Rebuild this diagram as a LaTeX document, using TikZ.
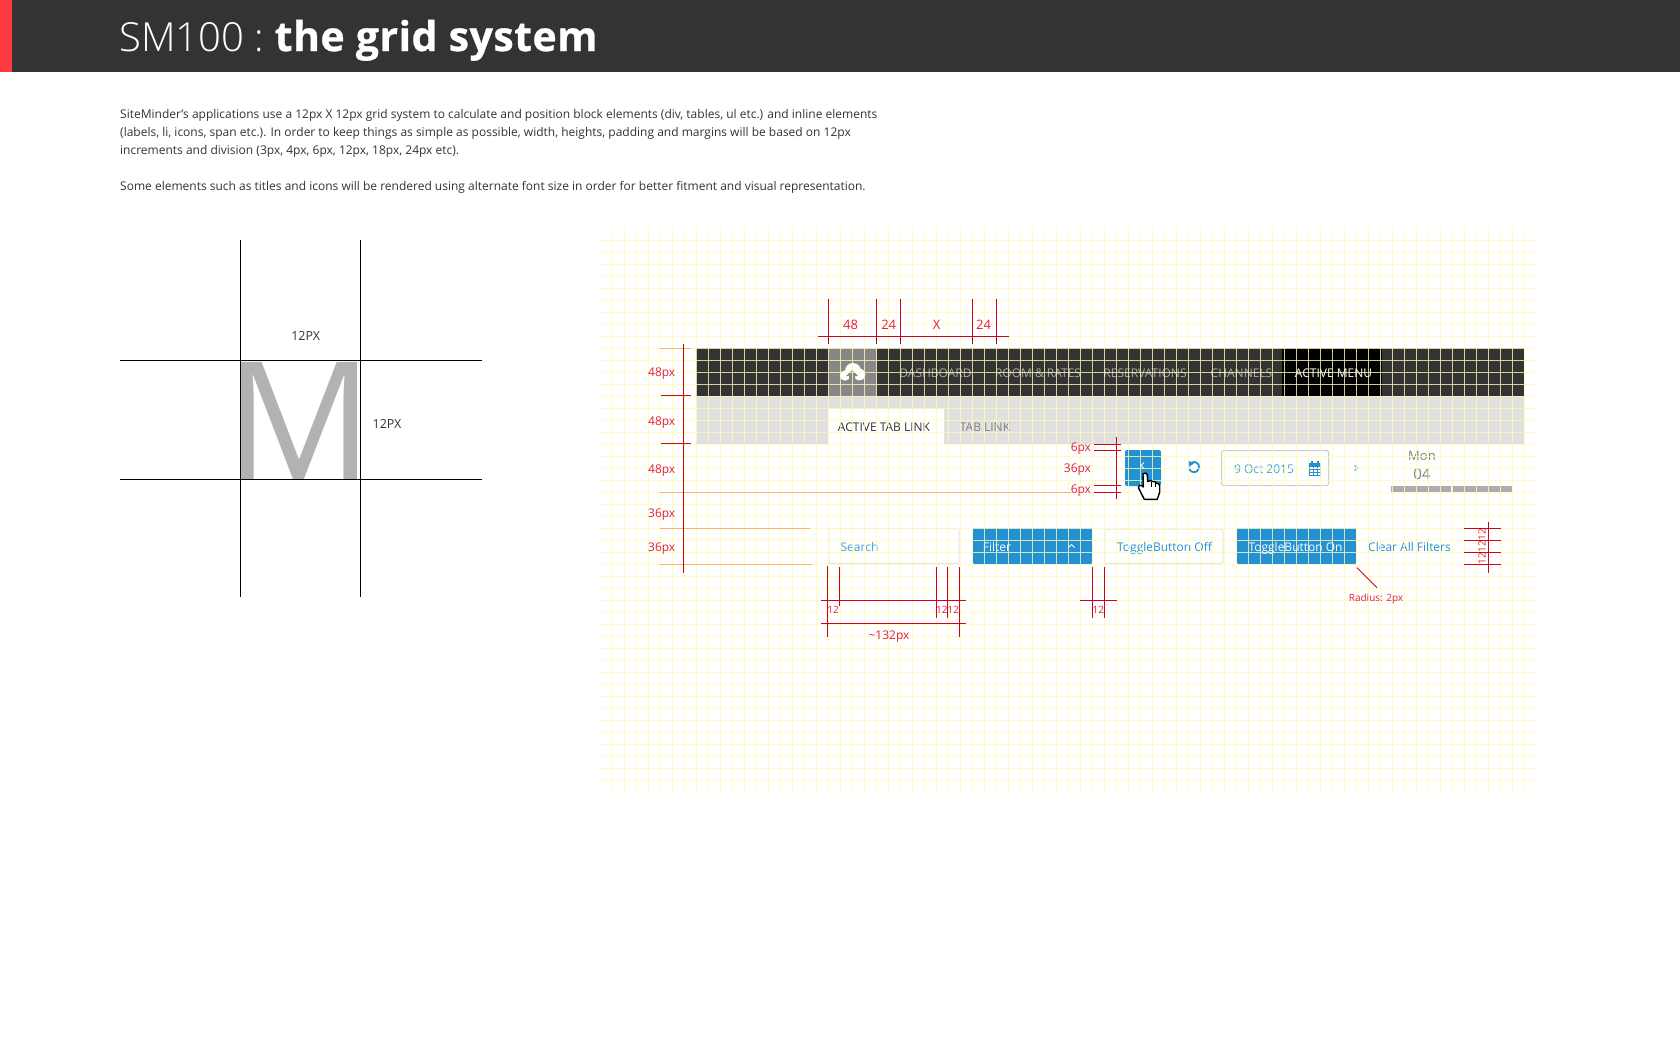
\documentclass[tikz,border=0pt]{standalone}
\usepackage{fontspec}
\setmainfont{Open Sans}
\newfontfamily\oslight{Open Sans Light}
\newfontfamily\oshead[BoldFeatures={FakeBold=0.7,LetterSpace=1.2}]{Open Sans}
\definecolor{hdr}{HTML}{333333}
\definecolor{bar}{HTML}{FF3B3F}
\definecolor{gridc}{HTML}{FFFAB4}
\definecolor{redl}{HTML}{D0021B}
\definecolor{redt}{HTML}{E02040}
\definecolor{orangel}{HTML}{FFB070}
\definecolor{blueb}{HTML}{2492D2}
\definecolor{bluet}{HTML}{3EA3DD}
\definecolor{navtxt}{HTML}{AAAAAA}
\tikzset{
  fs/.style={font=\fontsize{#1}{#1}\selectfont,text height={#1pt*0.714},text depth=0pt,inner sep=0pt,outer sep=0pt},
  redlabel/.style={fs=#1,text=redt},
  gridline/.style={draw=gridc,line width=1pt,draw opacity=.8},
  redline/.style={draw=redl,line width=1pt},
  orangeline/.style={draw=orangel,line width=1pt},
  blackline/.style={draw=black,line width=1pt},
  boxline/.style={draw=#1,line width=1pt,rounded corners=2pt},
}
\begin{document}
\begin{tikzpicture}[x=1pt,y=-1pt]
\useasboundingbox (0,0) rectangle (1680,1050);
\fill[white] (0,0) rectangle (1680,1050);
% header
\fill[hdr] (0,0) rectangle (1680,72);
\fill[bar] (0,0) rectangle (12,72);
\node[anchor=base west,inner sep=0pt,text=white,font=\fontsize{40}{40}\selectfont] (title) at (119,51) {{\oslight SM100 : }\hspace{-3pt}{\fontsize{41}{41}\selectfont\oshead\bfseries the grid system}};
% body text
\tikzset{bodytext/.style={anchor=base west,inner sep=0pt,text=hdr,font=\fontsize{12}{12}\selectfont}}
\node[bodytext] (p1) at (120,118) {SiteMinder’s applications use a 12px X 12px grid system to calculate and position block elements (div, tables, ul etc.) and inline elements};
\node[bodytext] (p2) at (120,136) {(labels, li, icons, span etc.). In order to keep things as simple as possible, width, heights, padding and margins will be based on 12px};
\node[bodytext] (p3) at (120,154) {increments and division (3px, 4px, 6px, 12px, 18px, 24px etc).};
\node[bodytext] (p4) at (120,190) {Some elements such as titles and icons will be rendered using alternate font size in order for better fitment and visual representation.};
% M diagram
\begin{scope}
\clip (240,361) rectangle (360,479.5);
\node[anchor=base,inner sep=0pt,text=black!30,font=\fontsize{164}{164}\selectfont] (bigm) at (300,479.5) {M};
\end{scope}
\draw[blackline] (240.5,240) -- (240.5,597);
\draw[blackline] (360.5,240) -- (360.5,597);
\draw[blackline] (120,360.5) -- (482,360.5);
\draw[blackline] (120,479.5) -- (482,479.5);
\node[fs=12.5,text=hdr] (d12a) at (305.7,336.3) {12PX};
\node[fs=12.5,text=hdr] (d12b) at (387,424.3) {12PX};
% nav
\fill[hdr] (696,348) rectangle (1524,396);
\fill[black!47] (828,348) rectangle (876.5,396);
\fill[black] (1282,348) rectangle (1382,396);
\fill[white!88!black] (696,396) rectangle (1524,444);
\fill[white] (828,409) rectangle (944,444);
% cloud icon
\fill[white] (853,371) circle[radius=8] (845,375.5) circle[radius=5.2] (859.5,374.5) circle[radius=5.8];
\fill[black!47] (852,370) -- (846,376) -- (849,376) -- (849,382) -- (855,382) -- (855,376) -- (858,376) -- cycle;
\tikzset{navt/.style={fs=12,text=navtxt}}
\node[navt] (m1) at (935.5,372.8) {DASHBOARD};
\node[navt] (m2) at (1038,372.8) {ROOM \& RATES};
\node[navt] (m3) at (1145,372.8) {RESERVATIONS};
\node[navt] (m4) at (1241.5,372.8) {CHANNELS};
\node[fs=12,text=white] (m5) at (1333.5,372.8) {ACTIVE MENU};
\node[fs=12,text=hdr] (t1) at (884,427) {ACTIVE TAB LINK};
\node[fs=12,text=black!50] (t2) at (985,427) {TAB LINK};
% small controls
\fill[blueb,rounded corners=2pt] (1125,450) rectangle (1161,486);
\draw[white,line width=.8pt] (1144,462.5) -- (1141,465.5) -- (1144,468.5);
\draw[boxline=black!20] (1221.5,450.5) rectangle (1328.5,485.5);
\node[fs=12,text=bluet] (date) at (1264,468.8) {9 Oct 2015};
% calendar icon
\draw[blueb,line width=.9pt] (1309.5,463.5) rectangle (1320.5,475.5);
\fill[blueb] (1309.5,463) rectangle (1320.5,466.5);
\draw[blueb,line width=1.4pt] (1312,461) -- (1312,464) (1318,461) -- (1318,464);
\draw[blueb,line width=.5pt] (1309.5,469) -- (1320.5,469) (1309.5,472) -- (1320.5,472) (1313,466) -- (1313,475) (1317,466) -- (1317,475);
% refresh icon
\draw[blueb,line width=1.8pt] (1194,467) ++(-120:5.2) arc[start angle=-120,end angle=170,radius=5.2];
\fill[blueb] (1188,460.5) -- (1194,463.5) -- (1188.5,467) -- cycle;
\draw[bluet,line width=1pt] (1354.5,465.5) -- (1357.5,468) -- (1354.5,470.5);
\node[fs=13,text=black!50] (mon) at (1422,456) {Mon};
\node[fs=15,text=black!50] (day) at (1422,474) {04};
\fill[black!32] (1391,486) rectangle (1512,492);
\fill[white] (1450.5,486) rectangle (1452,492);
% filter row
\draw[boxline=black!10] (828.5,528.5) rectangle (959,563.5);
\node[fs=12,text=bluet] (search) at (859.5,546.8) {Search};
\fill[blueb,rounded corners=1pt] (973,528) rectangle (1092,564);
\node[fs=12,text=white] (filter) at (997,546.8) {Filter};
\draw[white,line width=.8pt] (1068.5,547.5) -- (1071.5,544.5) -- (1074.5,547.5);
\draw[boxline=black!10] (1104.5,529) rectangle (1223,563.5);
\node[fs=12,text=blueb] (toff) at (1164.5,546.8) {ToggleButton Off};
\fill[blueb,rounded corners=1pt] (1237,528) rectangle (1356,564);
\node[fs=12,text=white] (ton) at (1295.5,546.8) {ToggleButton On};
\node[fs=12,text=blueb] (clr) at (1409.5,546.8) {Clear All Filters};
% grid
\foreach \gx in {0,...,76}{\draw[gridline] ({612.5+12*\gx},228) -- ({612.5+12*\gx},794);}
\foreach \gy in {0,...,45}{\draw[gridline] (600,{240.5+12*\gy}) -- (1536,{240.5+12*\gy});}
% hand
\draw[black,fill=white,line width=1.4pt,line join=round] (1143,475) .. controls (1143,472.5) and (1147,472.5) .. (1147.3,475) -- (1147.7,481.5) .. controls (1150,480) and (1152,480.5) .. (1152.5,481.5) .. controls (1155,481) and (1156,482) .. (1156,483) .. controls (1158,483) and (1159.7,484) .. (1159.7,486) -- (1159.7,492) -- (1157.3,499.3) -- (1144.3,499.3) -- (1138.5,488) .. controls (1138,485.5) and (1141,484) .. (1143.3,487) -- cycle;
\draw[black,line width=.9pt] (1151.8,482) -- (1151.8,487) (1155.6,483) -- (1155.6,487);
% orange guides
\draw[orangeline] (660,348.5) -- (691,348.5);
\draw[orangeline] (660,492.5) -- (1071,492.5);
\draw[orangeline] (660,528.5) -- (810,528.5);
\draw[orangeline] (660,564.5) -- (812,564.5);
% top dims
\foreach \dx in {828.5,876.5,900.5,972.5,996.5}{\draw[redline] (\dx,299) -- (\dx,344);}
\draw[redline] (818,336.5) -- (1008.7,336.5);
\node[redlabel=13] (a1) at (850.5,325) {48};
\node[redlabel=13] (a2) at (888.7,325) {24};
\node[redlabel=13] (a3) at (936.5,325) {X};
\node[redlabel=13] (a4) at (983.5,325) {24};
% left dims
\draw[redline] (683.5,344) -- (683.5,573);
\draw[redline] (661,395.5) -- (691,395.5);
\draw[redline] (661,443.5) -- (691,443.5);
\node[redlabel=12] (b1) at (661.7,372.3) {48px};
\node[redlabel=12] (b2) at (661.7,421.3) {48px};
\node[redlabel=12] (b3) at (661.7,469.3) {48px};
\node[redlabel=12] (b4) at (661.7,513.3) {36px};
\node[redlabel=12] (b5) at (661.7,547.3) {36px};
% button dims
\draw[redline] (1116.5,437) -- (1116.5,498.7);
\foreach \dy in {444.5,450.5,485.5,492.5}{\draw[redline] (1094,\dy) -- (1121,\dy);}
\node[redlabel=12,anchor=east] (c1) at (1091,447) {6px};
\node[redlabel=12,anchor=east] (c2) at (1091,468.5) {36px};
\node[redlabel=12,anchor=east] (c3) at (1091,489) {6px};
% radius
\draw[redline,line width=.9pt] (1357,567.7) -- (1377,587.7);
\node[redlabel=10] (r) at (1376,597.5) {Radius: 2px};
% right dims
\draw[redline] (1488.5,522) -- (1488.5,573);
\foreach \dy in {528.5,540.5,552.5,564.5}{\draw[redline] (1464,\dy) -- (1501,\dy);}
\node[redlabel=10,rotate=90] (e1) at (1482,534.3) {12};
\node[redlabel=10,rotate=90] (e2) at (1482,546.3) {12};
\node[redlabel=10,rotate=90] (e3) at (1482,558.3) {12};
% bottom dims
\draw[redline] (827.5,566) -- (827.5,637);
\draw[redline] (839.5,567) -- (839.5,605.7);
\draw[redline] (936.5,567) -- (936.5,617.7);
\draw[redline] (947.5,567) -- (947.5,617.7);
\draw[redline] (959.5,567) -- (959.5,637);
\draw[redline] (821,600.5) -- (966,600.5);
\draw[redline] (821,623.5) -- (966,623.5);
\node[redlabel=10] (f1) at (833,610) {12};
\node[redlabel=10] (f2) at (941.8,610) {12};
\node[redlabel=10] (f3) at (953.3,610) {12};
\node[redlabel=12] (f4) at (889,635) {\textasciitilde132px};
\draw[redline] (1092.5,567) -- (1092.5,617.7);
\draw[redline] (1104.5,567) -- (1104.5,617.7);
\draw[redline] (1080,600.5) -- (1117,600.5);
\node[redlabel=10] (f5) at (1098.3,610) {12};
\end{tikzpicture}
\end{document}
